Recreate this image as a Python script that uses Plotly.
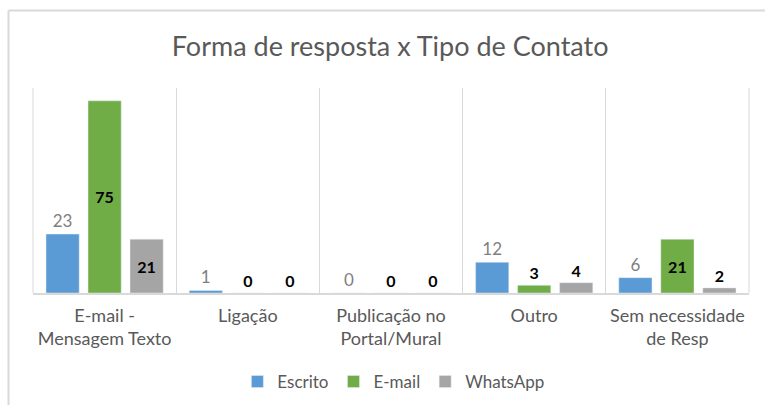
import plotly.graph_objects as go

categories = ["E-mail -<br>Mensagem Texto", "Ligação", "Publicação no<br>Portal/Mural", "Outro", "Sem necessidade<br>de Resp"]
escrito = [23, 1, 0, 12, 6]
email = [75, 0, 0, 3, 21]
whatsapp = [21, 0, 0, 4, 2]

FONT = "Lato, Roboto, Liberation Sans, sans-serif"


def positions(vals):
    return ["inside" if v >= 10 else "outside" for v in vals]


fig = go.Figure()
fig.add_trace(go.Bar(
    name="Escrito", x=categories, y=escrito, marker_color="#5B9BD5",
    text=escrito, textposition="outside", cliponaxis=False,
    outsidetextfont=dict(family=FONT, size=17, color="#7F7F7F"),
))
for name, vals, col in [("E-mail", email, "#70AD47"), ("WhatsApp", whatsapp, "#A5A5A5")]:
    fig.add_trace(go.Bar(
        name=name, x=categories, y=vals, marker_color=col,
        text=[f"<b>{v}</b>" for v in vals], textposition=positions(vals),
        insidetextanchor="middle", cliponaxis=False, textangle=0,
        insidetextfont=dict(family=FONT, size=16, color="#000000"),
        outsidetextfont=dict(family=FONT, size=16, color="#000000"),
    ))

L, T, W, H = 33, 88, 716, 205
fig.update_layout(
    width=765, height=405,
    margin=dict(l=L, r=765 - L - W, t=T, b=405 - T - H, autoexpand=False),
    paper_bgcolor="white", plot_bgcolor="white",
    barmode="group", bargap=0.12, bargroupgap=0.21,
    title=dict(text="Forma de resposta x Tipo de Contato", x=0.51, xanchor="center",
               y=1 - 47 / 405, yanchor="middle",
               font=dict(family=FONT, size=27, color="#595959")),
    font=dict(family=FONT, color="#595959"),
    showlegend=True,
    legend=dict(orientation="h", x=0.504, xanchor="center", y=(293 - 382) / 205, yanchor="middle",
                font=dict(family=FONT, size=17, color="#595959"), itemwidth=30,
                traceorder="normal"),
)
fig.update_xaxes(
    range=[-0.5, 4.5], automargin=False,
    tickson="boundaries", showgrid=True, gridcolor="#D9D9D9", gridwidth=1,
    showline=True, linecolor="#D9D9D9", linewidth=2, ticks="", ticklabelstandoff=5,
    tickfont=dict(family=FONT, size=18, color="#595959"),
)
fig.update_yaxes(range=[0, 80], visible=False, showgrid=False, automargin=False)

# outer gridlines at the plot-area edges
for xd in (0, 1):
    fig.add_shape(type="line", xref="x domain", yref="y domain", x0=xd, x1=xd, y0=0, y1=1,
                  line=dict(color="#D9D9D9", width=1), layer="below")

# chart border (left and top edges visible)
fig.add_shape(type="line", xref="paper", yref="paper",
              x0=(8.5 - L) / W, x1=(770 - L) / W, y0=(293 - 10.5) / H, y1=(293 - 10.5) / H,
              line=dict(color="#D9D9D9", width=2))
fig.add_shape(type="line", xref="paper", yref="paper",
              x0=(8.5 - L) / W, x1=(8.5 - L) / W, y0=(293 - 10.5) / H, y1=(293 - 410) / H,
              line=dict(color="#D9D9D9", width=2))

fig.write_html("out.html", config={"displayModeBar": False},
               post_script="document.body.style.margin='0';")
